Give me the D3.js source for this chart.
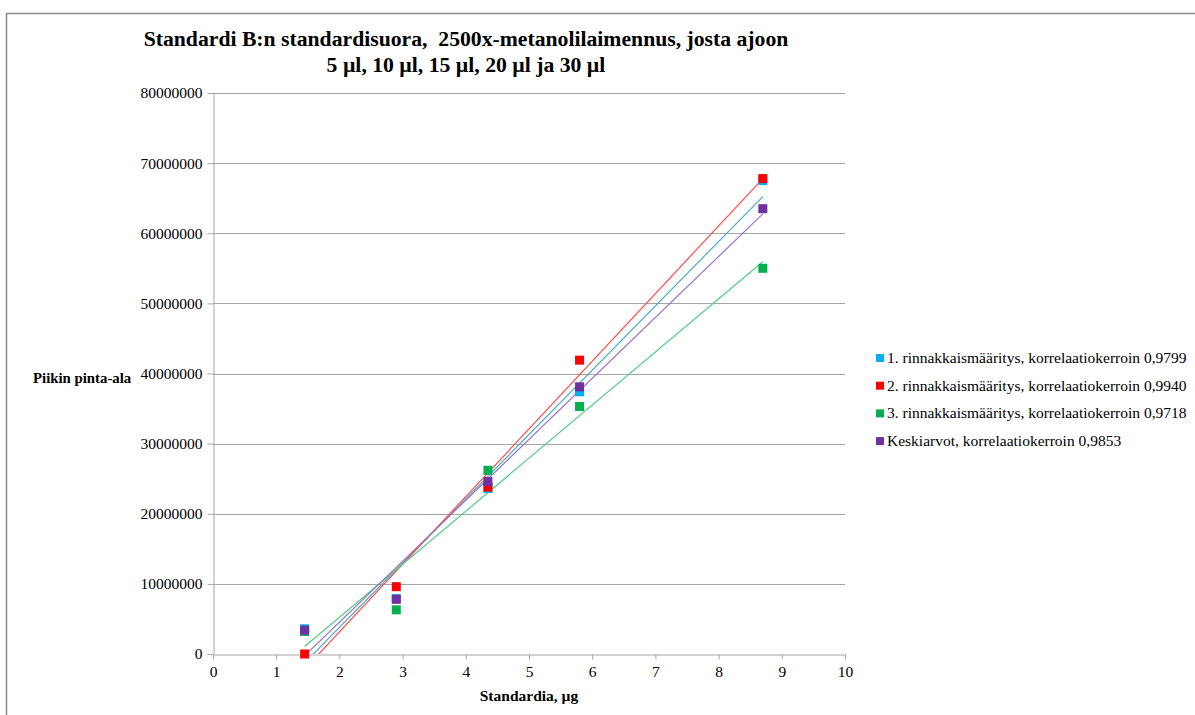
<!DOCTYPE html>
<html>
<head>
<meta charset="utf-8">
<script src="https://cdn.jsdelivr.net/npm/d3@7"></script>
<style>
  body { margin: 0; background: #fff; }
  text { font-family: "Liberation Serif", "Times New Roman", serif; }
</style>
</head>
<body>
<div id="chart"></div>
<script>
// x: standard amount (µg), y: peak area
const xValues = [1.45, 2.9, 4.35, 5.8, 8.7];
const rinnakkais1 = [3600000, 7900000, 23600000, 37400000, 67500000];
const rinnakkais2 = [0, 9600000, 23800000, 41900000, 67800000];
const rinnakkais3 = [3200000, 6300000, 26200000, 35300000, 55000000];
const keskiarvot = [3400000, 7800000, 24600000, 38100000, 63500000];
const seriesNames = [
  "1. rinnakkaismääritys, korrelaatiokerroin 0,9799",
  "2. rinnakkaismääritys, korrelaatiokerroin 0,9940",
  "3. rinnakkaismääritys, korrelaatiokerroin 0,9718",
  "Keskiarvot, korrelaatiokerroin 0,9853"
];
const seriesColors = ["#00b0f0", "#ff0000", "#00b050", "#7030a0"];
const lineColors = ["#4bacc6", "#ff4b4b", "#4fce84", "#9a74c8"];
const yTicks = [0, 10000000, 20000000, 30000000, 40000000, 50000000, 60000000, 70000000, 80000000];
const xTicks = [0, 1, 2, 3, 4, 5, 6, 7, 8, 9, 10];

const series = [rinnakkais1, rinnakkais2, rinnakkais3, keskiarvot].map((vals, i) => ({
  name: seriesNames[i],
  color: seriesColors[i],
  lineColor: lineColors[i],
  points: vals.map((v, j) => ({ x: xValues[j], y: v }))
}));

const W = 1195, H = 715;
const plot = { left: 213, right: 845, top: 93, bottom: 654 };

const svg = d3.select("#chart").append("svg")
  .attr("width", W).attr("height", H);

// outer border (top + left only visible)
svg.append("path")
  .attr("d", `M6.5,${H} V13.5 H${W}`)
  .attr("fill", "none").attr("stroke", "#8c8c8c").attr("stroke-width", 1.5);

const x = d3.scaleLinear().domain([0, 10]).range([plot.left, plot.right]);
const y = d3.scaleLinear().domain([0, 80000000]).range([plot.bottom, plot.top]);

// gridlines
svg.append("g")
  .selectAll("line")
  .data(yTicks.slice(1))
  .enter()
  .append("line")
  .attr("x1", plot.left).attr("x2", plot.right)
  .attr("y1", d => Math.round(y(d)) + 0.5).attr("y2", d => Math.round(y(d)) + 0.5)
  .attr("stroke", "#a6a6a6");

// Y axis
const yAxis = svg.append("g")
  .attr("transform", `translate(${plot.left + 0.5},0)`)
  .call(d3.axisLeft(y).tickValues(yTicks).tickFormat(d3.format("d")).tickSize(6).tickSizeOuter(0));
yAxis.select(".domain").attr("stroke", "#a6a6a6");
yAxis.selectAll(".tick line").attr("stroke", "#a6a6a6");
yAxis.selectAll(".tick text")
  .attr("x", -11)
  .style("font-size", "15.5px").style("fill", "#000");

// X axis
const xAxis = svg.append("g")
  .attr("transform", `translate(0,${plot.bottom + 0.5})`)
  .call(d3.axisBottom(x).tickValues(xTicks).tickSize(5).tickSizeOuter(0));
xAxis.select(".domain").attr("stroke", "#a6a6a6");
xAxis.selectAll(".tick line").attr("stroke", "#a6a6a6");
xAxis.selectAll(".tick text")
  .attr("y", 11)
  .style("font-size", "15.5px").style("fill", "#000");

// clip for trendlines
svg.append("clipPath").attr("id", "plotClip")
  .append("rect")
  .attr("x", plot.left).attr("y", plot.top)
  .attr("width", plot.right - plot.left).attr("height", plot.bottom - plot.top);

// linear trendlines (least squares)
function fit(pts) {
  const mx = d3.mean(pts, p => p.x), my = d3.mean(pts, p => p.y);
  const sxy = d3.sum(pts, p => (p.x - mx) * (p.y - my));
  const sxx = d3.sum(pts, p => (p.x - mx) * (p.x - mx));
  const b = sxy / sxx;
  return { b: b, a: my - b * mx };
}

const line = d3.line().x(d => x(d.x)).y(d => y(d.y));

svg.append("g").attr("clip-path", "url(#plotClip)")
  .selectAll("path")
  .data(series)
  .enter()
  .append("path")
  .attr("d", s => {
    const f = fit(s.points);
    const x0 = d3.min(s.points, p => p.x), x1 = d3.max(s.points, p => p.x);
    return line([{ x: x0, y: f.a + f.b * x0 }, { x: x1, y: f.a + f.b * x1 }]);
  })
  .attr("fill", "none")
  .attr("stroke", s => s.lineColor)
  .attr("stroke-width", 1.2);

// markers
const ms = 9;
series.forEach(s => {
  svg.append("g")
    .selectAll("rect")
    .data(s.points)
    .enter()
    .append("rect")
    .attr("x", d => x(d.x) - ms / 2)
    .attr("y", d => y(d.y) - ms / 2)
    .attr("width", ms).attr("height", ms)
    .attr("fill", s.color);
});

// title
const title = svg.append("text")
  .attr("text-anchor", "middle")
  .style("white-space", "pre")
  .style("font-size", "21.7px").style("font-weight", "bold");
title.append("tspan").attr("x", 466).attr("y", 46)
  .text("Standardi B:n standardisuora,  2500x-metanolilaimennus, josta ajoon");
title.append("tspan").attr("x", 466).attr("y", 72)
  .text("5 µl, 10 µl, 15 µl, 20 µl ja 30 µl");

// axis titles
svg.append("text")
  .attr("x", 33).attr("y", 383)
  .style("font-size", "14.8px").style("font-weight", "bold")
  .text("Piikin pinta-ala");

svg.append("text")
  .attr("x", 529).attr("y", 701)
  .attr("text-anchor", "middle")
  .style("font-size", "15.5px").style("font-weight", "bold")
  .text("Standardia, µg");

// legend
const legend = svg.append("g")
  .selectAll("g")
  .data(series)
  .enter()
  .append("g")
  .attr("transform", (d, i) => `translate(876,${358 + i * 27.7})`);
legend.append("rect")
  .attr("x", 0).attr("y", -4).attr("width", 8).attr("height", 8)
  .attr("fill", d => d.color);
legend.append("text")
  .attr("x", 11).attr("y", 5)
  .style("font-size", "15.5px")
  .text(d => d.name);
</script>
</body>
</html>
